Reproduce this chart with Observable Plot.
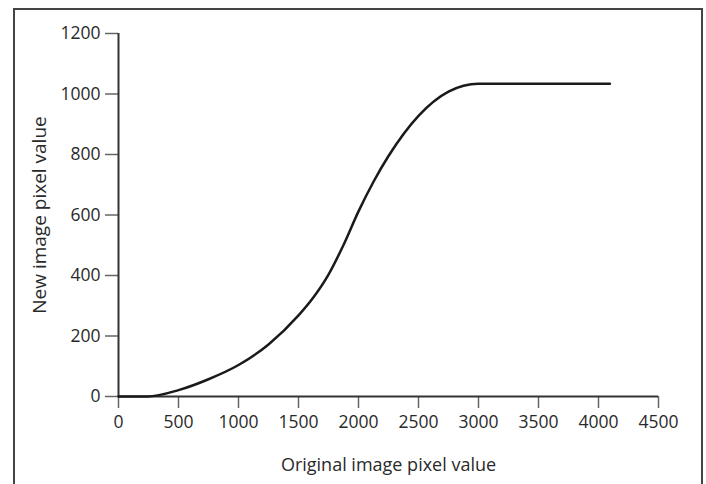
<!DOCTYPE html>
<html>
<head>
<meta charset="utf-8">
<script src="https://cdn.jsdelivr.net/npm/d3@7"></script>
<script src="https://cdn.jsdelivr.net/npm/@observablehq/plot@0.6"></script>
<style>
  html, body { margin: 0; padding: 0; background: #fff; }
  #wrap { position: relative; width: 706px; height: 484px; overflow: hidden; }
  #frame { position: absolute; left: 13px; top: 8px; width: 686px; height: 490px;
           border: 2px solid #444; border-bottom: none; box-sizing: content-box; pointer-events: none; }
  #chart { position: absolute; left: 0; top: 0; }
</style>
</head>
<body>
<div id="wrap"><div id="chart"></div><div id="frame"></div></div>
<script>
const originalValues = [0, 240, 500, 750, 1000, 1250, 1500, 1625, 1750, 1875, 2000, 2125, 2250, 2500, 2750, 3000, 4095];
const newValues      = [0, 0, 21, 57, 104, 172, 268, 328, 403, 501, 612, 710, 795, 928, 1008, 1034, 1034];
const xTicks = [0, 500, 1000, 1500, 2000, 2500, 3000, 3500, 4000, 4500];
const yTicks = [0, 200, 400, 600, 800, 1000, 1200];

const data = originalValues.map((x, i) => ({x, y: newValues[i]}));

const chart = Plot.plot({
  width: 706,
  height: 484,
  marginLeft: 118,
  marginRight: 48,
  marginTop: 33,
  marginBottom: 88,
  style: {fontFamily: "'Open Sans', sans-serif", fontSize: "17px", color: "#2a2a2a", background: "white"},
  x: {domain: [0, 4500]},
  y: {domain: [0, 1200]},
  marks: [
    Plot.axisX({ticks: xTicks, tickFormat: d => String(d), tickSize: 12, tickPadding: 7, stroke: "#666", strokeWidth: 1.5,
                fontSize: 17.5, label: null}),
    Plot.axisX({ticks: [], label: "Original image pixel value", labelAnchor: "center", labelOffset: 74,
                labelArrow: "none", fontSize: 18}),
    Plot.axisY({ticks: yTicks, tickFormat: d => String(d), tickSize: 13, tickPadding: 5, stroke: "#666", strokeWidth: 1.5,
                fontSize: 17.5, label: null}),
    Plot.axisY({ticks: [], label: "New image pixel value", labelAnchor: "center", labelOffset: 86,
                labelArrow: "none", fontSize: 19}),
    Plot.ruleY([0], {stroke: "#333", strokeWidth: 2}),
    Plot.ruleX([0], {stroke: "#333", strokeWidth: 2}),
    Plot.line(data, {x: "x", y: "y", curve: "monotone-x", stroke: "#1a1a1a", strokeWidth: 2.5})
  ]
});
document.getElementById("chart").appendChild(chart);
</script>
</body>
</html>
